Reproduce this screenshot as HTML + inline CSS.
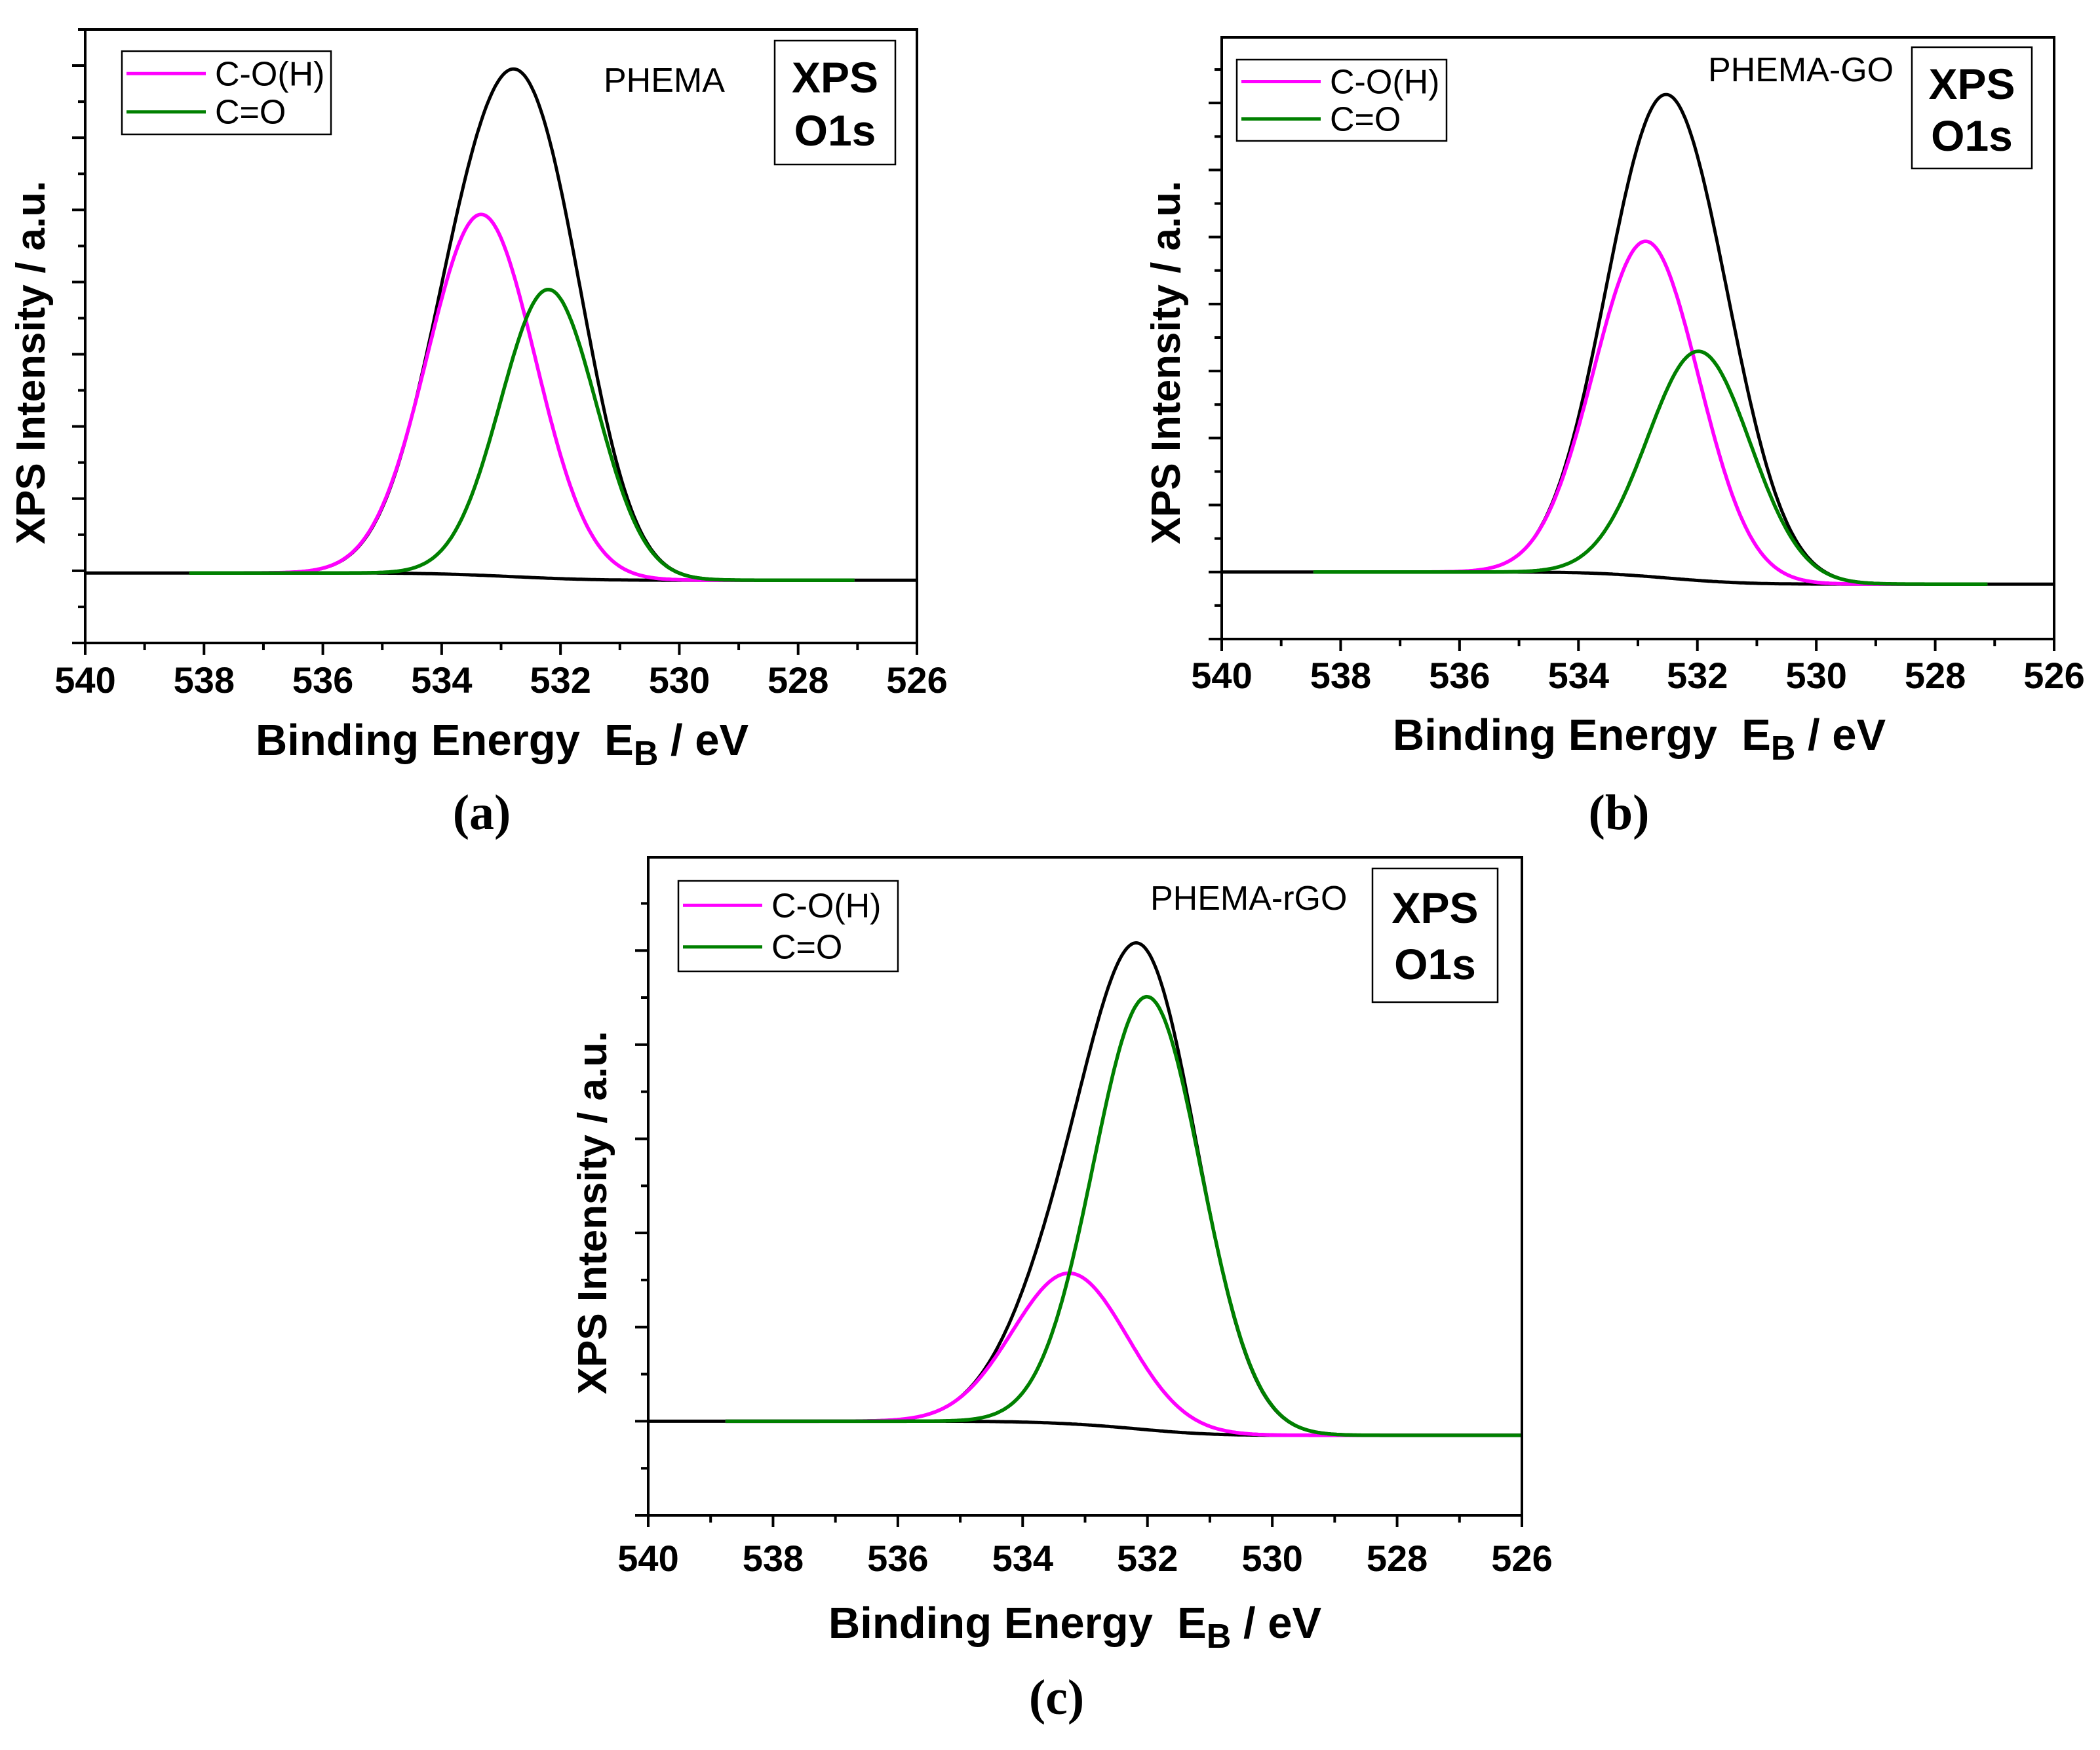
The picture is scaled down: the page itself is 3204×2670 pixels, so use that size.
<!DOCTYPE html>
<html><head><meta charset="utf-8"><style>
html,body{margin:0;padding:0;background:#fff;}
svg{display:block;font-family:"Liberation Sans",sans-serif;}
</style></head><body>
<svg id="fig" width="3204" height="2670" viewBox="0 0 3204 2670" xmlns="http://www.w3.org/2000/svg"></svg>
<script>
// ---- data ----
const xTickLabels = [540,538,536,534,532,530,528,526];
const seriesNames = ["C-O(H)","C=O"];
// panel a (PHEMA)
const aCenters = [533.33, 532.2];
const aHeights = [5.0, 4.0];
const aFwhm = [2.14, 1.9];
const aBg = [0.97, 0.87];
const aFitRange = [538.25, 527.05];
// panel b (PHEMA-GO)
const bCenters = [532.86, 531.97];
const bHeights = [5.0, 3.42];
const bFwhm = [2.08, 2.04];
const bBg = [1.0, 0.82];
const bFitRange = [538.47, 527.12];
// panel c (PHEMA-rGO)
const cCenters = [533.24, 532.0];
const cHeights = [1.6, 4.6];
const cFwhm = [2.16, 2.03];
const cBg = [1.0, 0.85];
const cFitRange = [538.77, 526.0];

const NS="http://www.w3.org/2000/svg";
const svg=document.getElementById('fig');
function el(tag,attrs,parent){const e=document.createElementNS(NS,tag);for(const k in attrs)e.setAttribute(k,attrs[k]);(parent||svg).appendChild(e);return e;}

const panels=[
 {id:'a',name:'PHEMA',L:130,R:1399,T:45,B:981,ymax:8.5,centers:aCenters,heights:aHeights,fwhm:aFwhm,bg:aBg,fit:aFitRange,
  tickY:1057,xTitleY:1152,xTitleX:766,labY:1265,labX:735,yTitleX:68,yTitleY:553,
  leg:[186,78,319,127],sampleX:921,sampleY:138,box:[1182,62,184,189],xpsY:117,o1sY:198},
 {id:'b',name:'PHEMA-GO',L:1864,R:3134,T:57,B:975,ymax:8.98,centers:bCenters,heights:bHeights,fwhm:bFwhm,bg:bBg,fit:bFitRange,
  tickY:1050,xTitleY:1144,xTitleX:2501,labY:1265,labX:2470,yTitleX:1800,yTitleY:553,
  leg:[1887,91,320,124],sampleX:2606,sampleY:122,box:[2917,72,183,185],xpsY:127,o1sY:206},
 {id:'c',name:'PHEMA-rGO',L:989,R:2322,T:1308,B:2312,ymax:6.99,centers:cCenters,heights:cHeights,fwhm:cFwhm,bg:cBg,fit:cFitRange,
  tickY:2397,xTitleY:2499,xTitleX:1640,labY:2615,labX:1612,yTitleX:925,yTitleY:1850,
  leg:[1035,1344,335,138],sampleX:1755,sampleY:1386,box:[2094,1325,191,204],xpsY:1384,o1sY:1470}
];

function gauss(x,c,h,w){const s=(x-c)/w;return h*Math.exp(-4*Math.LN2*s*s);}

panels.forEach(p=>{
  const g=el('g',{});
  
  
  const xs=v=>p.L+(540-v)/14*(p.R-p.L);
  const ys=v=>p.B-v/p.ymax*(p.B-p.T);
  const N=600, pts=[];
  for(let i=0;i<=N;i++){pts.push(540-14*i/N);}
  const peakSum=pts.map(x=>p.centers.reduce((s,c,k)=>s+gauss(x,c,p.heights[k],p.fwhm[k]),0));
  const cum=new Array(N+1).fill(0);
  for(let i=N-1;i>=0;i--)cum[i]=cum[i+1]+peakSum[i];
  const tot=cum[0]||1;
  const bgv=cum.map(c=>p.bg[1]+(p.bg[0]-p.bg[1])*c/tot);
  const inFit=x=>x<=p.fit[0]&&x>=p.fit[1];
  const path=(f,filter)=>{let d='';let first=true;pts.forEach((x,i)=>{if(filter&&!filter(x))return;d+=(first?'M':'L')+xs(x).toFixed(1)+','+ys(f(i)).toFixed(1);first=false;});return d;};
  const env=el('path',{d:path(i=>bgv[i]+peakSum[i]*0.97),fill:'none',stroke:'#000','stroke-width':5},g);
  
  
  const bgl=el('path',{d:path(i=>bgv[i],inFit),fill:'none',stroke:'#000','stroke-width':5},g);
  
  
  const colors=['#ff00ff','#008000'];
  [0,1].forEach(k=>{
    const c=el('path',{d:path(i=>bgv[i]+gauss(pts[i],p.centers[k],p.heights[k],p.fwhm[k]),inFit),fill:'none',stroke:colors[k],'stroke-width':5.5},g);
    
    
  });
  const fr=el('rect',{x:p.L,y:p.T,width:p.R-p.L,height:p.B-p.T,fill:'none',stroke:'#000','stroke-width':4},g);
  
  
  for(let v=540;v>=526;v--){
    const major=v%2===0;
    el('line',{x1:xs(v),x2:xs(v),y1:p.B,y2:p.B+(major?18:11),stroke:'#000','stroke-width':4},g);
  }
  xTickLabels.forEach(v=>{
    const t=el('text',{x:xs(v),y:p.tickY,'text-anchor':'middle','font-size':56,'font-weight':'bold'},g);
    t.textContent=v;
    
    
  });
  for(let k=0;k<=p.ymax*2+0.01;k++){
    const v=k/2; const major=k%2===0;
    el('line',{x1:p.L-(major?20:11),x2:p.L,y1:ys(v),y2:ys(v),stroke:'#000','stroke-width':4},g);
  }
  const yt=el('text',{x:p.yTitleX,y:p.yTitleY,'text-anchor':'middle','font-size':62,'font-weight':'bold',transform:`rotate(-90 ${p.yTitleX} ${p.yTitleY})`},g);
  yt.textContent='XPS Intensity / a.u.';
  
  
  const xt=el('text',{x:p.xTitleX,y:p.xTitleY,'text-anchor':'middle','font-size':67,'font-weight':'bold'},g);
  xt.innerHTML='Binding Energy&#160;&#160;E<tspan dy="15" font-size="52">B</tspan><tspan dy="-15"> / eV</tspan>';
  
  
  const lab=el('text',{x:p.labX,y:p.labY,'text-anchor':'middle','font-size':76,'font-family':'"Liberation Serif",serif','font-weight':'bold'},g);
  lab.textContent='('+p.id+')';
  
  
  const [lx,ly,lw,lh]=p.leg;
  const lg=el('g',{},g);
  
  
  el('rect',{x:lx,y:ly,width:lw,height:lh,fill:'#fff',stroke:'#000','stroke-width':2.5},lg);
  [0,1].forEach(k=>{
    const yy=ly+lh*(k===0?0.27:0.73);
    el('line',{x1:lx+7,x2:lx+128,y1:yy,y2:yy,stroke:colors[k],'stroke-width':5},lg);
    const t=el('text',{x:lx+142,y:yy+18,'font-size':52},lg);
    t.textContent=seriesNames[k];
    
    
  });
  const st=el('text',{x:p.sampleX,y:p.sampleY+2,'font-size':52},g);
  st.textContent=p.name;
  
  
  const [bx,by,bw,bh]=p.box;
  const bb=el('rect',{x:bx,y:by,width:bw,height:bh,fill:'#fff',stroke:'#000','stroke-width':2.5},g);
  
  
  const t1=el('text',{x:bx+bw/2,y:p.xpsY+24,'text-anchor':'middle','font-size':66,'font-weight':'bold'},g);
  t1.textContent='XPS';
  
  
  const t2=el('text',{x:bx+bw/2,y:p.o1sY+24,'text-anchor':'middle','font-size':66,'font-weight':'bold'},g);
  t2.textContent='O1s';
  
  
});
</script>
</body></html>
